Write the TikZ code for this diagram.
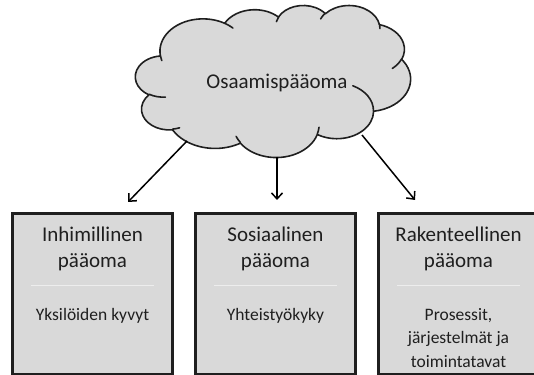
\documentclass[tikz,border=0pt]{standalone}
\usepackage{fontspec}
\setmainfont{Carlito}
\usetikzlibrary{arrows.meta}
\definecolor{panel}{HTML}{D9D9D9}
\definecolor{ink}{HTML}{1F1F1F}
\definecolor{rulegray}{HTML}{EDEDED}

\begin{document}
\begin{tikzpicture}[x=1pt,y=1pt,
  cloudline/.style={draw=ink, line width=1.6pt, fill=panel, line join=round},
  hookline/.style={draw=ink, line width=1.6pt, line cap=round},
  panelbox/.style={draw=ink, line width=2.2pt, fill=panel, minimum width=160pt, minimum height=161pt, inner sep=0pt},
  headtext/.style={font=\fontsize{21}{26}\selectfont, align=center, inner sep=0pt, text=ink},
  bodytext/.style={font=\fontsize{17.5}{23.5}\selectfont, align=center, inner sep=0pt, text=ink},
  divider/.style={draw=rulegray, line width=1pt},
  flow/.style={draw=black, line width=1.5pt, -{Straight Barb[length=6pt,width=11pt]}},
]
\clip (0,0) rectangle (534,374);

% cloud frame: left edge, top edge, and scale per 1000 shape units
\def\cX{135.5}\def\cY{369}\def\csx{6.3657}\def\csy{3.5185}

% outline arcs: radii in shape units, visual start angle and sweep (y down)
\foreach \n/\w/\h/\s/\sw in {
  a/6.753/9.190/-190.48748/123.78053,
  b/5.333/7.267/-144.10238/89.94523,
  c/4.365/5.945/-145.80792/99.72302,
  d/4.857/6.595/-130.98607/117.24173,
  e/5.333/7.273/-78.70888/109.02692,
  f/6.775/9.220/-46.26725/130.269,
  g/5.785/7.867/0.62502/114.03333,
  h/6.752/9.215/22.4516/115.17255,
  i/7.720/10.543/66.24263/75.71102,
  j/4.360/5.918/-274.94208/146.73557,
  k/4.345/5.945/-246.8285/152.51885} {
  \pgfmathsetmacro\ts{atan2(\w*sin(\s),\h*cos(\s))}
  \pgfmathsetmacro\te{atan2(\w*sin(\s+\sw),\h*cos(\s+\sw))}
  \pgfmathsetmacro\dd{\te-\ts}
  \pgfmathsetmacro\dd{\dd<0 ? \dd+360 : \dd}
  \pgfmathsetmacro\ns{-1*(\ts)}
  \pgfmathsetmacro\nd{-1*(\dd)}
  \pgfmathsetmacro\rx{\w*\csx}
  \pgfmathsetmacro\ry{\h*\csy}
  \expandafter\xdef\csname clS\n\endcsname{\ns}
  \expandafter\xdef\csname clD\n\endcsname{\nd}
  \expandafter\xdef\csname clX\n\endcsname{\rx}
  \expandafter\xdef\csname clY\n\endcsname{\ry}
}

\path[cloudline] ({\cX+3.9*\csx},{\cY-14.37*\csy})
  arc[start angle=\clSa, delta angle=\clDa, x radius=\clXa pt, y radius=\clYa pt]
  arc[start angle=\clSb, delta angle=\clDb, x radius=\clXb pt, y radius=\clYb pt]
  arc[start angle=\clSc, delta angle=\clDc, x radius=\clXc pt, y radius=\clYc pt]
  arc[start angle=\clSd, delta angle=\clDd, x radius=\clXd pt, y radius=\clYd pt]
  arc[start angle=\clSe, delta angle=\clDe, x radius=\clXe pt, y radius=\clYe pt]
  arc[start angle=\clSf, delta angle=\clDf, x radius=\clXf pt, y radius=\clYf pt]
  arc[start angle=\clSg, delta angle=\clDg, x radius=\clXg pt, y radius=\clYg pt]
  arc[start angle=\clSh, delta angle=\clDh, x radius=\clXh pt, y radius=\clYh pt]
  arc[start angle=\clSi, delta angle=\clDi, x radius=\clXi pt, y radius=\clYi pt]
  arc[start angle=\clSj, delta angle=\clDj, x radius=\clXj pt, y radius=\clYj pt]
  arc[start angle=\clSk, delta angle=\clDk, x radius=\clXk pt, y radius=\clYk pt]
  -- cycle;

% inner creases of the cloud
\foreach \px/\py/\w/\h/\s/\sw in {
  4.693/26.177/4.345/5.945/86.742/26.4295,
  6.928/34.899/4.360/5.918/73.61047/11.44747,
  16.478/39.090/6.752/9.215/137.62415/14.0811,
  28.827/34.751/6.752/9.215/6.45327/15.99835,
  34.129/22.954/5.785/7.867/-70.29235/70.91737,
  41.798/15.354/5.333/7.273/30.31803/27.7515,
  38.324/5.426/4.857/6.595/-13.74433/14.8589,
  29.078/3.952/4.857/6.595/-149.18145/18.19537,
  22.141/4.720/4.365/5.945/-163.49427/17.68635,
  14.000/5.192/6.753/9.190/-66.70695/12.31935,
  4.127/15.789/6.753/9.190/157.65435/11.85817} {
  \pgfmathsetmacro\ts{atan2(\w*sin(\s),\h*cos(\s))}
  \pgfmathsetmacro\te{atan2(\w*sin(\s+\sw),\h*cos(\s+\sw))}
  \pgfmathsetmacro\dd{\te-\ts}
  \pgfmathsetmacro\dd{\dd<0 ? \dd+360 : \dd}
  \pgfmathsetmacro\ns{-1*(\ts)}
  \pgfmathsetmacro\nd{-1*(\dd)}
  \pgfmathsetmacro\rx{\w*\csx}
  \pgfmathsetmacro\ry{\h*\csy}
  \draw[hookline] ({\cX+\px*\csx},{\cY-\py*\csy})
    arc[start angle=\ns, delta angle=\nd, x radius=\rx pt, y radius=\ry pt];
}

\node[headtext] (cloud) at (277,291) {Osaamispääoma};

% arrow anchors on the cloud rim and free arrow ends
\coordinate (rim-l) at (187,233);
\coordinate (rim-m) at (277,217);
\coordinate (rim-r) at (362,239);
\coordinate (end-l) at (128,172);
\coordinate (end-m) at (277,174);
\coordinate (end-r) at (415,174);

\draw[flow] (rim-l) -- (end-l);
\draw[flow] (rim-m) -- (end-m);
\draw[flow] (rim-r) -- (end-r);

% three capital boxes
\node[panelbox] (b1) at (92.5,80) {};
\node[panelbox] (b2) at (275.5,80) {};
\node[panelbox] (b3) at (458.5,80) {};

\node[headtext] (h1) at (92.5,125) {Inhimillinen\\pääoma};
\node[headtext] (h2) at (275.5,125) {Sosiaalinen\\pääoma};
\node[headtext] (h3) at (458.5,125) {Rakenteellinen\\pääoma};

\draw[divider] (30.5,88) -- (153.5,88);
\draw[divider] (213.5,88) -- (336.5,88);
\draw[divider] (396.5,88) -- (519.5,88);

\node[bodytext] (d1) at (92.5,58.5) {Yksilöiden kyvyt};
\node[bodytext] (d2) at (275.5,58.5) {Yhteistyökyky};
\node[bodytext] (d3) at (458.5,36.4) {Prosessit,\\järjestelmät ja\\toimintatavat};
\end{tikzpicture}
\end{document}
